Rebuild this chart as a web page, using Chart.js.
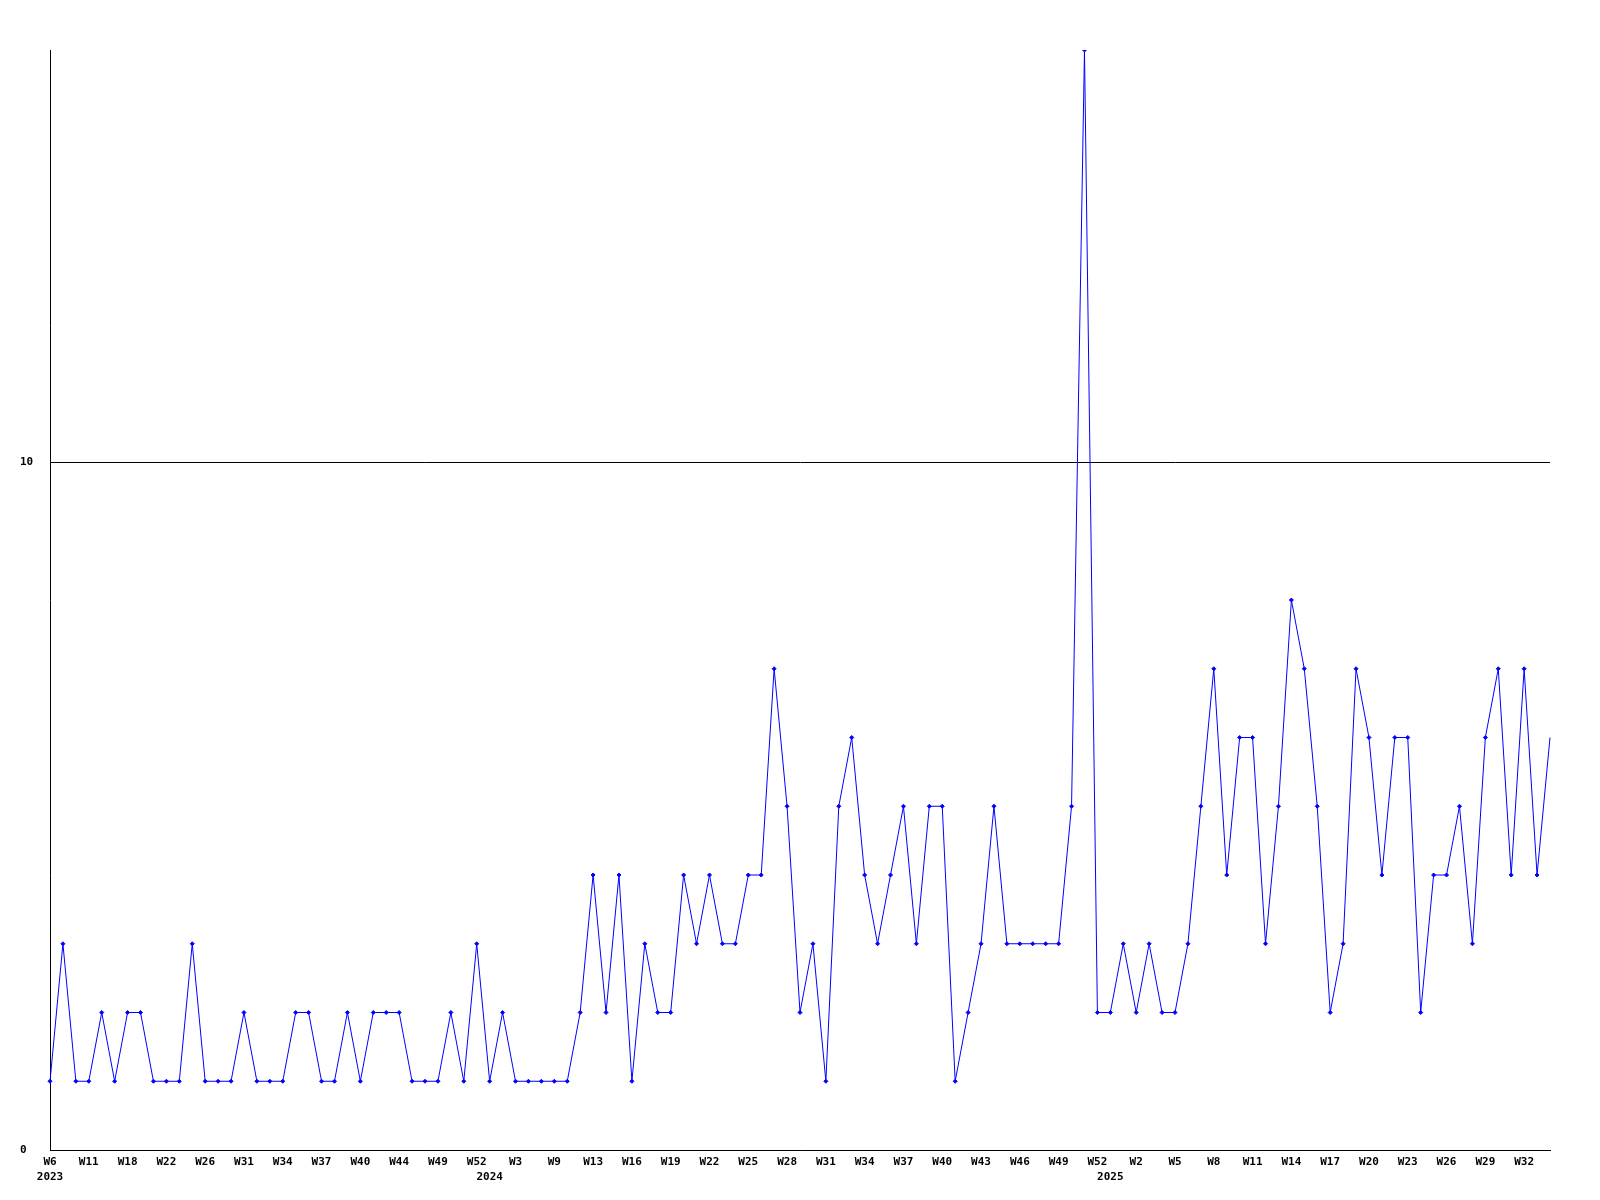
<!DOCTYPE html>
<html>
<head>
<meta charset="utf-8">
<script src="https://cdn.jsdelivr.net/npm/chart.js@4.4.1/dist/chart.umd.min.js"></script>
<style>
  body { margin: 0; background: #fff; }
  canvas { display: block; }
</style>
</head>
<body>
<canvas id="myChart" width="1600" height="1200"></canvas>
<script>
// one point per week that has data
var weeks = [
  "W6", "W8", "W10", "W11", "W13", "W15", "W18", "W19", "W21", "W22",
  "W23", "W25", "W26", "W28", "W30", "W31", "W32", "W33", "W34", "W35",
  "W36", "W37", "W38", "W39", "W40", "W42", "W43", "W44", "W46", "W47",
  "W49", "W50", "W51", "W52",
  "W0", "W2", "W3", "W5", "W7", "W9", "W11", "W12", "W13", "W14",
  "W15", "W16", "W17", "W18", "W19", "W20", "W21", "W22", "W23", "W24",
  "W25", "W26", "W27", "W28", "W29", "W30", "W31", "W32", "W33", "W34",
  "W35", "W36", "W37", "W38", "W39", "W40", "W41", "W42", "W43", "W44",
  "W45", "W46", "W47", "W48", "W49", "W50", "W51", "W52",
  "W0", "W1", "W2", "W3", "W4", "W5", "W6", "W7", "W8", "W9",
  "W10", "W11", "W12", "W13", "W14", "W15", "W16", "W17", "W18", "W19",
  "W20", "W21", "W22", "W23", "W24", "W25", "W26", "W27", "W28", "W29",
  "W30", "W31", "W32", "W33", "W34"
];

var years = ["2023", "2024", "2025"];
var yearStart = [0, 34, 82];

var counts = [
  1, 3, 1, 1, 2, 1, 2, 2, 1, 1,
  1, 3, 1, 1, 1, 2, 1, 1, 1, 2,
  2, 1, 1, 2, 1, 2, 2, 2, 1, 1,
  1, 2, 1, 3, 1, 2, 1, 1, 1, 1,
  1, 2, 4, 2, 4, 1, 3, 2, 2, 4,
  3, 4, 3, 3, 4, 4, 7, 5, 2, 3,
  1, 5, 6, 4, 3, 4, 5, 3, 5, 5,
  1, 2, 3, 5, 3, 3, 3, 3, 3, 5,
  16, 2, 2, 3, 2, 3, 2, 2, 3, 5,
  7, 4, 6, 6, 3, 5, 8, 7, 5, 2,
  3, 7, 6, 4, 6, 6, 2, 4, 4, 5,
  3, 6, 7, 4, 7, 4, 6
];

var yTicks = [0, 10];
var yMax = 16;

var axisFont = { family: "'DejaVu Sans Mono', monospace", size: 11, weight: "bold", lineHeight: 15 / 11 };

const ctx = document.getElementById("myChart");

new Chart(ctx, {
  type: "line",
  data: {
    labels: weeks,
    datasets: [
      {
        data: counts,
        borderColor: "#0000ff",
        borderWidth: 1,
        tension: 0,
        pointStyle: "rectRot",
        pointRadius: (c) => (c.dataIndex === counts.length - 1 ? 0 : 2),
        pointBackgroundColor: "#0000ff",
        pointBorderColor: "#0000ff",
        pointBorderWidth: 1,
      },
    ],
  },
  options: {
    responsive: false,
    animation: false,
    layout: { padding: { left: 20, top: 50, right: 50, bottom: 0 } },
    plugins: {
      legend: { display: false },
      tooltip: { enabled: false },
    },
    scales: {
      x: {
        grid: { display: false, drawTicks: false },
        border: { display: true, color: "#000", width: 1 },
        ticks: {
          autoSkip: false,
          maxRotation: 0,
          minRotation: 0,
          padding: 5,
          color: "#000",
          font: axisFont,
          callback: function (value, index) {
            var lines = [index % 3 === 0 ? weeks[index] : ""];
            var y = yearStart.indexOf(index);
            if (y >= 0) lines.push(years[y]);
            return lines.length > 1 ? lines : lines[0];
          },
        },
        afterFit: function (scale) {
          scale.height = 50;
        },
      },
      y: {
        min: 0,
        max: yMax,
        grid: { color: "#000", lineWidth: 1, drawTicks: false },
        border: { display: true, color: "#000", width: 1 },
        ticks: {
          crossAlign: "far",
          padding: 0,
          color: "#000",
          font: axisFont,
        },
        afterBuildTicks: function (scale) {
          scale.ticks = yTicks.map((v) => ({ value: v }));
        },
        afterFit: function (scale) {
          scale.width = 30;
        },
      },
    },
  },
});
</script>
</body>
</html>
